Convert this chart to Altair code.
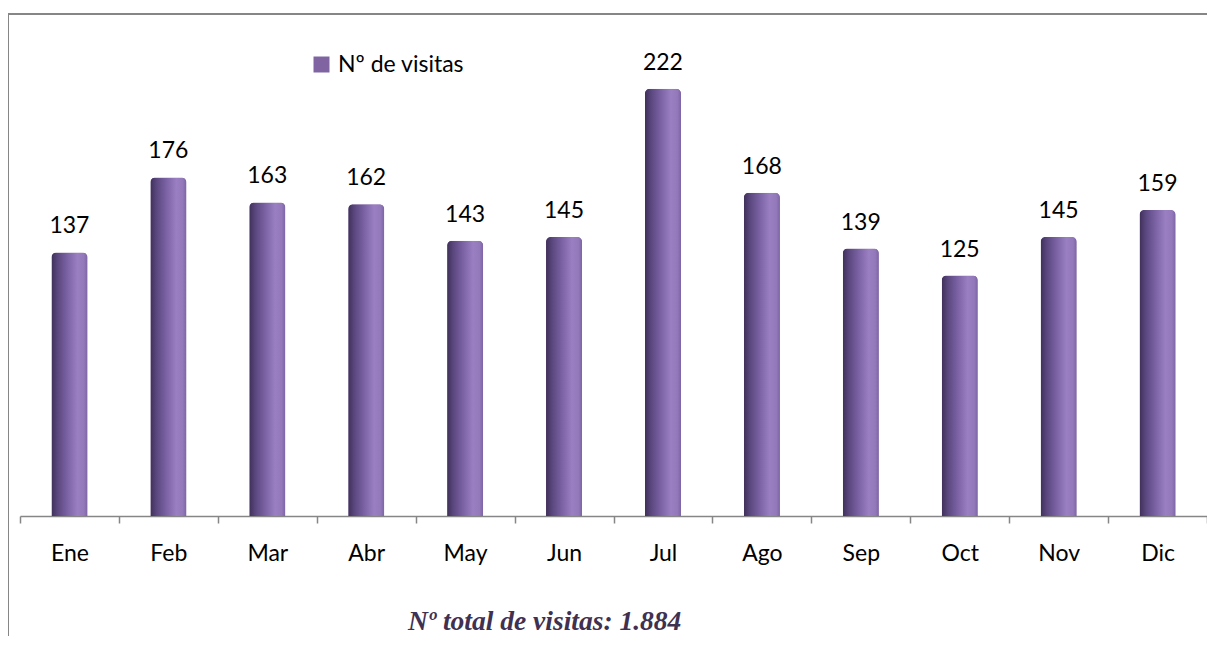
import altair as alt
import pandas as pd

meses = ["Ene", "Feb", "Mar", "Abr", "May", "Jun", "Jul", "Ago", "Sep", "Oct", "Nov", "Dic"]
visitas = [137, 176, 163, 162, 143, 145, 222, 168, 139, 125, 145, 159]
serie = "Nº de visitas"
total_txt = "Nº total de visitas: 1.884"

df = pd.DataFrame({"mes": meses, "visitas": visitas, "serie": [serie] * len(meses)})
frame_df = pd.DataFrame({"k": [0]})

W, H = 1187, 481
FONT = "Lato"
FS = 23

x = alt.X(
    "mes:N",
    sort=meses,
    scale=alt.Scale(paddingInner=0, paddingOuter=0),
    axis=alt.Axis(
        title=None,
        labelAngle=0,
        labelFont=FONT,
        labelFontSize=FS,
        labelColor="black",
        labelPadding=19,
        tickBand="extent",
        tickSize=7,
        tickWidth=1.5,
        tickColor="#868686",
        domainColor="#868686",
        domainWidth=1.5,
    ),
)
y = alt.Y("visitas:Q", scale=alt.Scale(domain=[0, 250]), axis=None)

base = alt.Chart(df)

bars_legend = base.mark_bar(
    width=alt.RelativeBandSize(0.364),
    cornerRadiusTopLeft=5,
    cornerRadiusTopRight=5,
).encode(
    x=x,
    y=y,
    color=alt.Color(
        "serie:N",
        scale=alt.Scale(range=["#8064a2"]),
        legend=alt.Legend(
            title=None,
            orient="none",
            legendX=290,
            legendY=18,
            padding=0,
            symbolType="square",
            symbolSize=256,
            symbolStrokeWidth=0,
            labelFont=FONT,
            labelFontSize=FS,
            labelColor="black",
            labelOffset=5,
        ),
    ),
)

grad = alt.Gradient(
    gradient="linear",
    x1=0, x2=1, y1=0, y2=0,
    stops=[
        alt.GradientStop(color="#3f3059", offset=0),
        alt.GradientStop(color="#5c4880", offset=0.18),
        alt.GradientStop(color="#7c63a5", offset=0.45),
        alt.GradientStop(color="#9a80c2", offset=0.72),
        alt.GradientStop(color="#9379ba", offset=0.9),
        alt.GradientStop(color="#7d64a5", offset=1),
    ],
)

bars_grad = base.mark_bar(
    width=alt.RelativeBandSize(0.364),
    cornerRadiusTopLeft=5,
    cornerRadiusTopRight=5,
    color=grad,
).encode(x=x, y=y)

labels = base.mark_text(
    baseline="alphabetic",
    dy=-19,
    font=FONT,
    fontSize=FS,
    color="black",
).encode(x=x, y=y, text="visitas:Q")

frame_top = alt.Chart(frame_df).mark_rule(color="#868686", strokeWidth=2).encode(
    x=alt.value(-12), x2=alt.value(W + 40), y=alt.value(-21)
)
frame_left = alt.Chart(frame_df).mark_rule(color="#868686", strokeWidth=2).encode(
    x=alt.value(-12), y=alt.value(-22), y2=alt.value(H + 124)
)

chart = alt.layer(frame_top, frame_left, bars_legend, bars_grad, labels).properties(
    width=W,
    height=H,
    padding={"left": 12, "top": 27, "right": 0, "bottom": 120},
    autosize=alt.AutoSizeParams(type="none"),
    title=alt.TitleParams(
        text=total_txt,
        orient="bottom",
        anchor="start",
        dx=401,
        offset=-33,
        font="Liberation Serif",
        fontSize=27.5,
        fontStyle="italic",
        fontWeight="bold",
        color="#3f3151",
    ),
).configure_view(strokeWidth=0)

chart.save("out.html", embed_options={"renderer": "svg", "actions": False})
